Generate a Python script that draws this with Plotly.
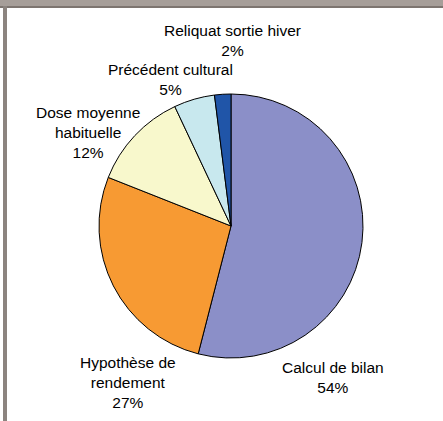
import plotly.graph_objects as go

labels = ["Calcul de bilan", "Hypothèse de rendement", "Dose moyenne habituelle",
          "Précédent cultural", "Reliquat sortie hiver"]
values = [54, 27, 12, 5, 2]
label_texts = ["Calcul de bilan<br>54%", "Hypothèse de<br>rendement<br>27%",
               "Dose moyenne<br>habituelle<br>12%", "Précédent cultural<br>5%",
               "Reliquat sortie hiver<br>2%"]
colors = ["#8B8FC8", "#F79A33", "#F8F8CC", "#C8E8EE", "#2055A8"]

W, H = 443, 421
cx, cy, r = 231, 226, 132

fig = go.Figure(go.Pie(
    labels=labels, values=values, sort=False, direction="clockwise", rotation=0,
    marker=dict(colors=colors, line=dict(color="black", width=1)),
    textinfo="none", showlegend=False,
    domain=dict(x=[(cx - r) / W, (cx + r) / W], y=[(H - cy - r) / H, (H - cy + r) / H]),
))

# label positions (pixel centres)
label_pos = [(333, 377), (128, 382), (88, 133), (170, 80), (232, 40.5)]
for t, (px, py) in zip(label_texts, label_pos):
    fig.add_annotation(text=t, x=px / W, y=1 - py / H, xref="paper", yref="paper",
                       showarrow=False, xanchor="center", yanchor="middle",
                       font=dict(family="Liberation Sans, Arial", size=15.5, color="black"))

shapes = [
    dict(type="rect", xref="paper", yref="paper", x0=0, x1=1, y0=1 - 6 / H, y1=1,
         fillcolor="#A69E99", line=dict(width=0), layer="above"),
    dict(type="rect", xref="paper", yref="paper", x0=0, x1=1, y0=1 - 8 / H, y1=1 - 6 / H,
         fillcolor="#7D7570", line=dict(width=0), layer="above"),
    dict(type="rect", xref="paper", yref="paper", x0=3 / W, x1=7 / W, y0=0, y1=1 - 6 / H,
         fillcolor="#8C847F", line=dict(width=0), layer="above"),
]
fig.update_layout(width=W, height=H, margin=dict(l=0, r=0, t=0, b=0),
                  paper_bgcolor="white", plot_bgcolor="white", shapes=shapes)
fig.write_html("out.html")
